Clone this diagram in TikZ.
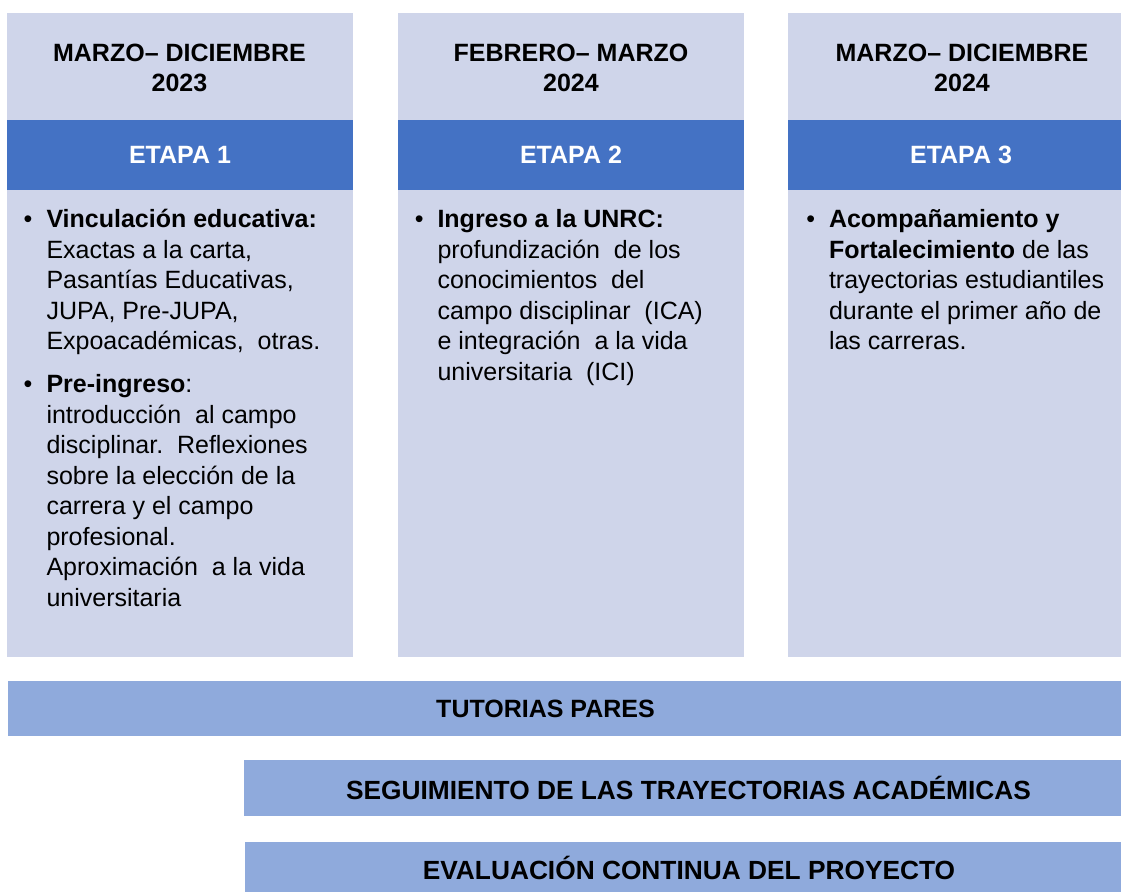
\documentclass[tikz,border=0pt]{standalone}
\usepackage{fontspec}
\setmainfont{Liberation Sans}
\usepackage{xcolor}
\usetikzlibrary{positioning}
\definecolor{celllight}{HTML}{CFD5EA}
\definecolor{bandblue}{HTML}{4472C4}
\definecolor{barblue}{HTML}{8FAADC}
\newcommand{\bul}{\llap{\textbullet\hspace{14pt}}}
\newcommand{\fl}{\rule{0pt}{25pt}}

\begin{document}
\begin{tikzpicture}[x=1pt,y=-1pt,
  every node/.style={inner sep=0pt,outer sep=0pt},
  cell/.style={fill=celllight,minimum width=346pt},
  band/.style={fill=bandblue,minimum width=346pt,minimum height=70pt,
    text=white,font=\fontsize{25}{30}\selectfont\bfseries},
  period/.style={align=center,anchor=north,font=\fontsize{25}{30}\selectfont\bfseries},
  item/.style={align=left,anchor=north west,font=\fontsize{25}{30.5}\selectfont},
  bar/.style={fill=barblue,anchor=north west,minimum width=#1},
  bartext/.style={font=\fontsize{25}{30}\selectfont\bfseries}]
\useasboundingbox (0,0) rectangle (1121,891);

% columns
\node[cell,minimum height=107pt,anchor=north west] (topA) at (7,13) {};
\node[band,below=0pt of topA] (etapaA) {ETAPA 1};
\node[cell,minimum height=467pt,below=0pt of etapaA] (bodyA) {};
\node[period] (dateA) at (179.5,36) {\fl MARZO– DICIEMBRE\\2023};

\node[cell,minimum height=107pt,anchor=north west] (topB) at (398,13) {};
\node[band,below=0pt of topB] (etapaB) {ETAPA 2};
\node[cell,minimum height=467pt,below=0pt of etapaB] (bodyB) {};
\node[period] (dateB) at (571,36) {\fl FEBRERO– MARZO\\2024};

\node[cell,minimum height=107pt,anchor=north west] (topC) at (788,13) {};
\node[band,below=0pt of topC] (etapaC) {ETAPA 3};
\node[cell,minimum height=467pt,below=0pt of etapaC] (bodyC) {};
\node[period] (dateC) at (962,36) {\fl MARZO– DICIEMBRE\\2024};

% items
\node[item] (itemA1) at (46.5,202.5) {\fl\bul\textbf{Vinculación educativa:}\\
  Exactas a la carta,\\ Pasantías Educativas,\\ JUPA, Pre-JUPA,\\
  Expoacadémicas,\ \ otras.};
\node[item] (itemA2) at (46.5,367.5) {\fl\bul\textbf{Pre-ingreso}:\\
  introducción\ \ al campo\\ disciplinar.\ \ Reflexiones\\ sobre la elección de la\\
  carrera y el campo\\ profesional.\\ Aproximación\ \ a la vida\\ universitaria};
\node[item] (itemB1) at (437.5,202.5) {\fl\bul\textbf{Ingreso a la UNRC:}\\
  profundización\ \ de los\\ conocimientos\ \ del\\ campo\ disciplinar\ \ (ICA)\\
  e integración\ \ a la vida\\ universitaria\ \ (ICI)};
\node[item] (itemC1) at (829,202.5) {\fl\bul\textbf{Acompañamiento y}\\
  \textbf{Fortalecimiento} de las\\ trayectorias\ estudiantiles\\
  durante\ el primer\ año de\\ las\ carreras.};

% bars
\node[bar=1113pt,minimum height=55pt] (tutorias) at (8,681) {};
\node[bartext] (tutlabel) at ([xshift=-19pt]tutorias.center) {TUTORIAS PARES};
\node[bar=877pt,minimum height=56pt] (seguimiento) at (244,760) {};
\node[bartext,font=\fontsize{26.3}{30}\selectfont\bfseries] (seglabel)
  at ([xshift=6pt]seguimiento.center) {SEGUIMIENTO DE LAS TRAYECTORIAS ACADÉMICAS};
\node[bar=876pt,minimum height=60pt] (evaluacion) at (245,842) {};
\node[bartext,font=\fontsize{26.3}{30}\selectfont\bfseries] (evallabel)
  at ([xshift=6pt,yshift=4pt]evaluacion.center) {EVALUACIÓN CONTINUA DEL PROYECTO};
\end{tikzpicture}
\end{document}
